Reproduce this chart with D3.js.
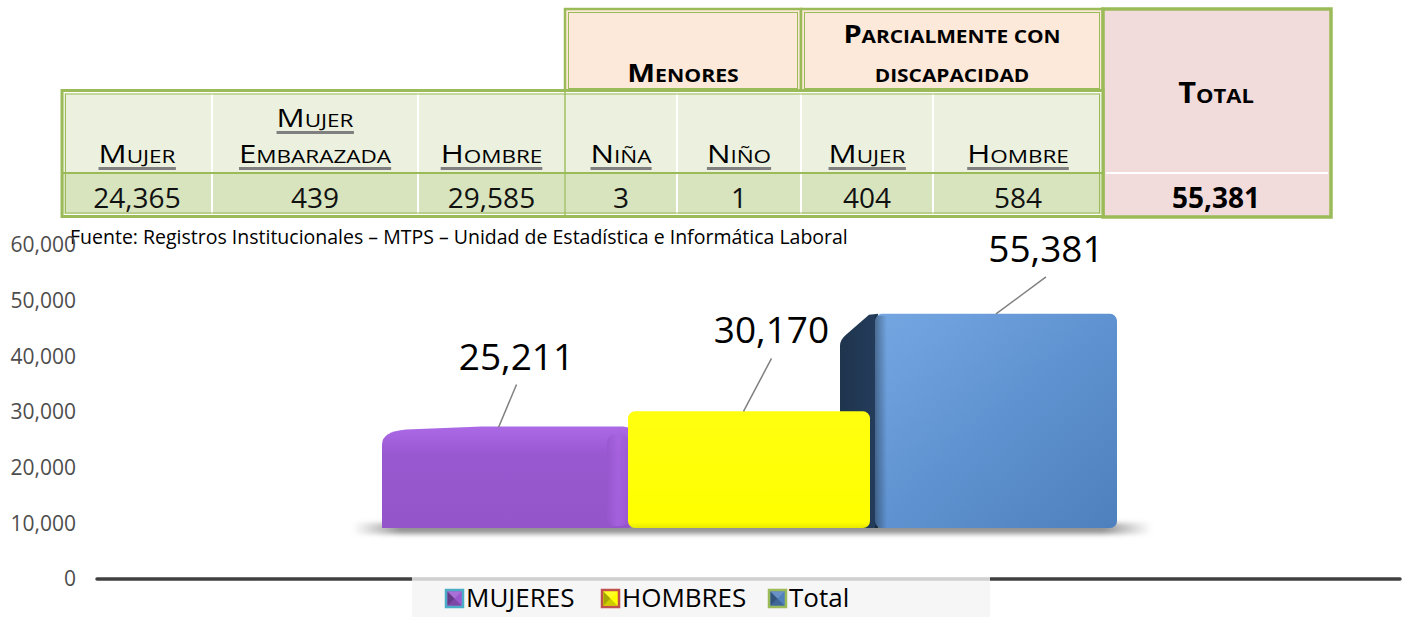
<!DOCTYPE html>
<html>
<head>
<meta charset="utf-8">
<style>
  body { margin: 0; background: #fff; }
  svg text { font-family: "Open Sans", sans-serif; white-space: pre; }
</style>
</head>
<body>
<svg width="1404" height="617"></svg>
<script src="https://cdn.jsdelivr.net/npm/d3@7"></script>
<script>
// ---- datos ----
var groupLines = [["Menores"], ["Parcialmente con", "discapacidad"]];
var colLines = [["Mujer"], ["Mujer", "Embarazada"], ["Hombre"], ["Niña"], ["Niño"], ["Mujer"], ["Hombre"]];
var colValues = [24365, 439, 29585, 3, 1, 404, 584];
var totalLabel = "Total";
var totalValue = 55381;

var categories = ["MUJERES", "HOMBRES", "Total"];
var values = [25211, 30170, 55381];
var yTicks = [0, 10000, 20000, 30000, 40000, 50000, 60000];
var fuente = "Fuente: Registros Institucionales – MTPS – Unidad de Estadística e Informática Laboral";

// ---- estilo / layout ----
var green = "#9bbb59";
var colEdges = [62, 212, 418, 565, 677, 801, 933, 1103];
var groupCols = [[3, 4], [5, 6]];
var fmt = d3.format(",");

var svg = d3.select("svg");
var defs = svg.append("defs");

// texto en versalitas (mayúscula grande + resto pequeño)
function smallCaps(sel, str, cx, y, big, small, bold, sx, underline) {
  var g = sel.append("g").attr("transform", "translate(" + cx + "," + y + ") scale(" + sx + ",1)");
  var t = g.append("text").attr("text-anchor", "middle")
    .attr("font-weight", bold ? 700 : 400).attr("fill", "#000");
  var runs = [];
  for (var ch of str) {
    var isBig = ch !== ch.toLowerCase();
    var sz = isBig ? big : small;
    if (runs.length && runs[runs.length - 1].sz === sz) runs[runs.length - 1].s += ch.toUpperCase();
    else runs.push({ sz: sz, s: ch.toUpperCase() });
  }
  runs.forEach(function(r) { t.append("tspan").attr("font-size", r.sz).text(r.s); });
  if (underline) {
    var bb = t.node().getBBox();
    g.append("rect").attr("x", bb.x).attr("y", 4).attr("width", bb.width).attr("height", 3).attr("fill", "#808080");
  }
  return g;
}

// ================= TABLA =================
var tbl = svg.append("g");

// celdas de grupo (Menores / Parcialmente...)
groupCols.forEach(function(gc, i) {
  var xa = colEdges[gc[0]], xb = colEdges[gc[1] + 1];
  tbl.append("rect").attr("x", xa).attr("y", 9).attr("width", xb - xa).attr("height", 83)
    .attr("fill", "#fde9d9").attr("stroke", green).attr("stroke-width", 2.5);
  tbl.append("rect").attr("x", xa + 3.5).attr("y", 12.5).attr("width", xb - xa - 7).attr("height", 76)
    .attr("fill", "none").attr("stroke", green).attr("stroke-width", 1);
  var lines = groupLines[i];
  var cx = (xa + xb) / 2;
  if (lines.length === 1) {
    smallCaps(tbl, lines[0], cx, 82, 25, 18, true, 1.18, false);
  } else {
    smallCaps(tbl, lines[0], cx, 43, 25, 18, true, 1.16, false);
    smallCaps(tbl, lines[1], cx, 82, 25, 18, true, 1.16, false);
  }
});

// celda Total
tbl.append("rect").attr("x", 1103).attr("y", 9).attr("width", 228).attr("height", 208)
  .attr("fill", "#f2dcdb").attr("stroke", green).attr("stroke-width", 3.5);
tbl.append("line").attr("x1", 1106).attr("x2", 1328).attr("y1", 173).attr("y2", 173)
  .attr("stroke", "#fff").attr("stroke-width", 2);
smallCaps(tbl, totalLabel, 1216, 103, 28, 20, true, 1.1, false);
tbl.append("text").attr("x", 1216).attr("y", 208).attr("text-anchor", "middle")
  .attr("font-size", 28).attr("font-weight", 700).text(fmt(totalValue));

// filas de encabezado y valores
colLines.forEach(function(lines, i) {
  var xa = colEdges[i], xb = colEdges[i + 1], cx = (xa + xb) / 2;
  tbl.append("rect").attr("x", xa).attr("y", 92).attr("width", xb - xa).attr("height", 81)
    .attr("fill", "#ebf1de").attr("stroke", "#fff").attr("stroke-width", 2);
  tbl.append("rect").attr("x", xa).attr("y", 173).attr("width", xb - xa).attr("height", 42)
    .attr("fill", "#d7e4bd").attr("stroke", "#fff").attr("stroke-width", 2);
  if (lines.length === 1) {
    smallCaps(tbl, lines[0], cx, 163, 25, 18, false, 1.25, true);
  } else {
    smallCaps(tbl, lines[0], cx, 127, 25, 18, false, 1.25, true);
    smallCaps(tbl, lines[1], cx, 163, 25, 18, false, 1.25, true);
  }
  tbl.append("text").attr("x", cx).attr("y", 208).attr("text-anchor", "middle")
    .attr("font-size", 28).attr("fill", "#111").text(fmt(colValues[i]));
});
// separador verde entre filas y marco doble
tbl.append("line").attr("x1", 62).attr("x2", 1103).attr("y1", 173).attr("y2", 173)
  .attr("stroke", green).attr("stroke-width", 2);
tbl.append("rect").attr("x", 62).attr("y", 90.5).attr("width", 1041).attr("height", 126)
  .attr("fill", "none").attr("stroke", green).attr("stroke-width", 3);
tbl.append("rect").attr("x", 65.5).attr("y", 94).attr("width", 1034).attr("height", 119)
  .attr("fill", "none").attr("stroke", green).attr("stroke-width", 1);
tbl.append("line").attr("x1", 565).attr("x2", 565).attr("y1", 92).attr("y2", 215)
  .attr("stroke", green).attr("stroke-width", 1.5);

// ================= GRÁFICO =================
svg.append("text").attr("x", 70).attr("y", 244).attr("font-size", 19.5).attr("fill", "#000").text(fuente);

var yAxisScale = d3.scaleLinear().domain([0, 60000]).range([579, 245]);
// escala de las barras (plano 3D con suelo más alto)
var yBar = d3.scaleLinear().domain([0, 60000]).range([528, 296]);
var x = d3.scaleBand().domain(categories).range([382, 1117]).paddingInner(0);

var yAxis = svg.append("g").attr("transform", "translate(76,0)")
  .call(d3.axisLeft(yAxisScale).tickValues(yTicks).tickFormat(fmt).tickSize(0).tickPadding(0));
yAxis.select(".domain").remove();
yAxis.selectAll("text").attr("font-size", 21).attr("fill", "#4d4d4d")
  .attr("font-family", "'Open Sans', sans-serif");

// eje horizontal
svg.append("line").attr("x1", 97).attr("x2", 1400).attr("y1", yAxisScale(0)).attr("y2", yAxisScale(0))
  .attr("stroke", "#404040").attr("stroke-width", 3.5).attr("stroke-linecap", "round");

// gradientes
function lin(id, x2, y2, stops) {
  var g = defs.append("linearGradient").attr("id", id).attr("x1", 0).attr("y1", 0).attr("x2", x2).attr("y2", y2);
  stops.forEach(function(s) { g.append("stop").attr("offset", s[0]).attr("stop-color", s[1]).attr("stop-opacity", s[2] == null ? 1 : s[2]); });
}
lin("gPurple", 0, 1, [[0, "#ab69e6"], [0.12, "#a462de"], [0.28, "#9858cf"], [1, "#9455ca"]]);
lin("gPurpleSide", 1, 0, [[0, "#9656cc"], [0.5, "#a964e2"], [1, "#9a59d2"]]);
lin("gYellow", 0, 1, [[0, "#ffff10"], [0.95, "#ffff00"], [1, "#e8e800"]]);
lin("gBlue", 1, 1, [[0, "#74a7e2"], [0.5, "#5f92d0"], [1, "#4e80bd"]]);
lin("gBlueSide", 1, 0, [[0, "#1f344d"], [1, "#243d5c"]]);
lin("gBlueEdge", 1, 0, [[0, "#000", 0.35], [1, "#000", 0]]);
lin("gShadow", 1, 0, [[0, "#999", 0], [0.06, "#888", 0.9], [0.94, "#888", 0.9], [1, "#999", 0]]);
defs.append("filter").attr("id", "blur").attr("x", "-10%").attr("y", "-100%").attr("width", "120%").attr("height", "300%")
  .append("feGaussianBlur").attr("stdDeviation", 2.5);

// sombra del suelo
svg.append("rect").attr("x", 352).attr("y", 523).attr("width", 800).attr("height", 11)
  .attr("rx", 5).attr("fill", "url(#gShadow)").attr("filter", "url(#blur)");

var bw = x.bandwidth();
var bars = svg.append("g");

// Total (atrás): cara lateral oscura y frente azul
(function() {
  var x0 = x("Total"), top = yBar(values[2]), x1 = x0 + bw, b = yBar(0);
  bars.append("path").attr("fill", "url(#gBlueSide)")
    .attr("d", "M" + (x0 - 32) + "," + b + " L" + (x0 - 32) + "," + (top + 32) +
      " Q" + (x0 - 32) + "," + (top + 26) + " " + (x0 - 26) + "," + (top + 21) +
      " L" + (x0 - 3) + "," + (top + 1) + " L" + (x0 + 6) + "," + top + " L" + (x0 + 6) + "," + b + " Z");
  bars.append("rect").attr("x", x0 + 3).attr("y", top).attr("width", x1 - x0 - 3).attr("height", b - top)
    .attr("rx", 7).attr("fill", "url(#gBlue)");
  bars.append("rect").attr("x", x0 + 3).attr("y", top + 2).attr("width", 12).attr("height", b - top - 2)
    .attr("fill", "url(#gBlueEdge)");
})();

// Mujeres: frente morado con borde superior inclinado
(function() {
  var x0 = x("MUJERES"), top = yBar(values[0]), x1 = x0 + bw + 6, b = yBar(0);
  bars.append("path").attr("fill", "url(#gPurple)")
    .attr("d", "M" + x0 + "," + b + " L" + x0 + "," + (top + 14) +
      " Q" + x0 + "," + (top + 1) + " " + (x0 + 24) + "," + (top - 1) +
      " L" + (x0 + 100) + "," + (top - 4) + " L" + (x1 - 10) + "," + (top - 4) +
      " Q" + x1 + "," + (top - 4) + " " + x1 + "," + (top + 6) +
      " L" + x1 + "," + (b - 4) + " Q" + x1 + "," + b + " " + (x1 - 6) + "," + b + " Z");
  bars.append("rect").attr("x", x1 - 26).attr("y", top + 4).attr("width", 22).attr("height", b - top - 6)
    .attr("rx", 8).attr("fill", "url(#gPurpleSide)").attr("opacity", 0.8);
})();

// Hombres: frente amarillo
(function() {
  var x0 = x("HOMBRES"), top = yBar(values[1]), b = yBar(0);
  bars.append("rect").attr("x", x0 + 1).attr("y", top).attr("width", bw - 3).attr("height", b - top)
    .attr("rx", 7).attr("fill", "url(#gYellow)");
})();

// etiquetas de datos con líneas guía
var labelDx = [18, 28, 50];
var labelDy = [-58, -68, -52];
var labels = svg.append("g");
categories.forEach(function(c, i) {
  var cx = c === "Total" ? x(c) + 3 + (bw - 3) / 2 : x(c) + bw / 2 - 6;
  var top = yBar(values[i]) - (c === "MUJERES" ? 3 : 0);
  var lx = cx + labelDx[i], ly = top + labelDy[i];
  labels.append("line").attr("x1", cx).attr("y1", top).attr("x2", lx).attr("y2", ly + 15)
    .attr("stroke", "#808080").attr("stroke-width", 1.5);
  labels.append("text").attr("x", lx).attr("y", ly).attr("text-anchor", "middle")
    .attr("font-size", 37).attr("fill", "#000").text(fmt(values[i]));
});

// leyenda
var legendColors = ["#9b59d0", "#ffff00", "#4f81bd"];
var legendBorders = ["#4bacc6", "#c0504d", "#9bbb59"];
var legendX = [445, 601, 768];
svg.append("rect").attr("x", 412).attr("y", 577).attr("width", 578).attr("height", 40)
  .attr("fill", "#f4f4f4").attr("opacity", 0.8);
var leg = svg.selectAll(".leg").data(categories).enter().append("g")
  .attr("class", "leg").attr("transform", function(d, i) { return "translate(" + legendX[i] + ",589)"; });
leg.append("rect").attr("x", 1).attr("y", 1).attr("width", 17).attr("height", 17)
  .attr("fill", function(d, i) { return legendColors[i]; })
  .attr("stroke", function(d, i) { return legendBorders[i]; }).attr("stroke-width", 2.5);
leg.append("path").attr("d", "M2.5,2.5 L9.5,9.5 L2.5,16.5 Z").attr("fill", "#000").attr("opacity", 0.35);
leg.append("path").attr("d", "M2.5,16.5 L9.5,9.5 L16.5,16.5 Z").attr("fill", "#000").attr("opacity", 0.2);
leg.append("path").attr("d", "M2.5,2.5 L9.5,9.5 L16.5,2.5 Z").attr("fill", "#fff").attr("opacity", 0.15);
leg.append("text").attr("x", 21).attr("y", 18).attr("font-size", 26).attr("fill", "#000")
  .text(function(d) { return d; });
</script>
</body>
</html>
